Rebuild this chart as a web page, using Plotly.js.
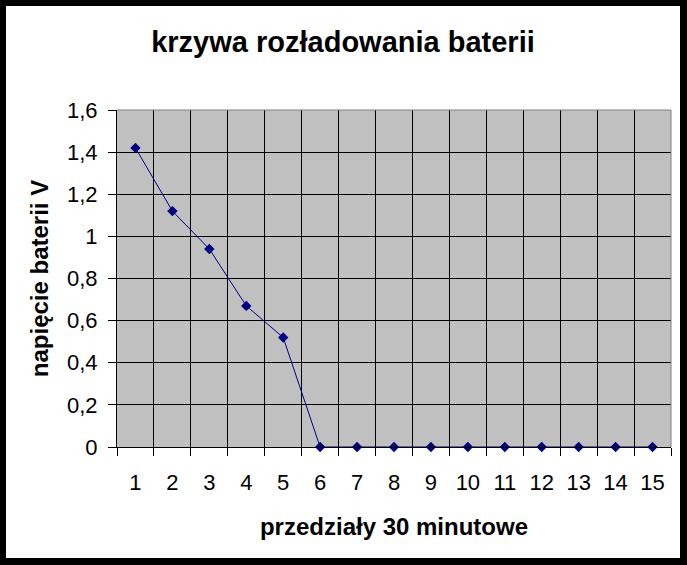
<!DOCTYPE html>
<html>
<head>
<meta charset="utf-8">
<script src="https://cdn.plot.ly/plotly-3.0.1.min.js"></script>
<style>
  html, body { margin: 0; padding: 0; background: #fff; }
  #frame { position: relative; width: 687px; height: 565px; background: #000; }
  #chart { position: absolute; left: 6px; top: 6px; width: 674px; height: 552px; background: #fff; }
</style>
</head>
<body>
<div id="frame"><div id="chart"></div></div>
<script>
const categories = ['1','2','3','4','5','6','7','8','9','10','11','12','13','14','15'];
const voltage = [1.42, 1.12, 0.94, 0.67, 0.52, 0, 0, 0, 0, 0, 0, 0, 0, 0, 0];
const chartTitle = 'krzywa rozładowania baterii';
const xTitle = 'przedziały 30 minutowe';
const yTitle = 'napięcie baterii V';
const yTickValues = [0, 0.2, 0.4, 0.6, 0.8, 1, 1.2, 1.4, 1.6];

const FONT = 'Liberation Sans, Arial, sans-serif';

const trace = {
  type: 'scatter',
  mode: 'lines+markers',
  x: categories,
  y: voltage,
  line: { color: '#000080', width: 1 },
  marker: { symbol: 'diamond', size: 8, color: '#000080' },
  cliponaxis: false,
  hoverinfo: 'x+y'
};

const layout = {
  width: 674,
  height: 552,
  margin: { l: 111, r: 9, t: 104, b: 111 },
  paper_bgcolor: '#ffffff',
  plot_bgcolor: '#C0C0C0',
  separators: ', ',
  showlegend: false,
  font: { family: FONT, color: '#000' },
  title: {
    text: chartTitle,
    font: { family: FONT, size: 29, weight: 'bold', color: '#000' },
    xref: 'container', x: 0.5, xanchor: 'center',
    yref: 'container', y: 1 - 36 / 552, yanchor: 'middle'
  },
  xaxis: {
    type: 'category',
    range: [-0.5, 14.5],
    tickson: 'boundaries',
    showgrid: true, gridcolor: '#000', gridwidth: 1,
    showline: true, linecolor: '#000', linewidth: 1,
    ticks: 'outside', ticklen: 8, tickcolor: '#000', tickwidth: 1,
    tickfont: { family: FONT, size: 22, color: '#000' },
    ticklabelstandoff: 16,
    zeroline: false,
    title: { text: xTitle, font: { family: FONT, size: 24, weight: 'bold', color: '#000' }, standoff: 23 },
    fixedrange: true
  },
  yaxis: {
    range: [0, 1.6],
    tickvals: yTickValues,
    showgrid: true, gridcolor: '#000', gridwidth: 1,
    showline: true, linecolor: '#000', linewidth: 1,
    ticks: 'outside', ticklen: 8, tickcolor: '#000', tickwidth: 1,
    tickfont: { family: FONT, size: 22, color: '#000' },
    ticklabelstandoff: 6,
    zeroline: false,
    title: { text: yTitle, font: { family: FONT, size: 24, weight: 'bold', color: '#000' }, standoff: 11 },
    fixedrange: true
  },
  shapes: [
    { type: 'line', xref: 'paper', yref: 'paper', x0: 0, x1: 1, y0: 1, y1: 1, line: { color: '#808080', width: 1 }, layer: 'above' },
    { type: 'line', xref: 'paper', yref: 'paper', x0: 1, x1: 1, y0: 0, y1: 1, line: { color: '#808080', width: 1 }, layer: 'above' }
  ]
};

Plotly.newPlot('chart', [trace], layout, { displayModeBar: false, staticPlot: true });
</script>
</body>
</html>
